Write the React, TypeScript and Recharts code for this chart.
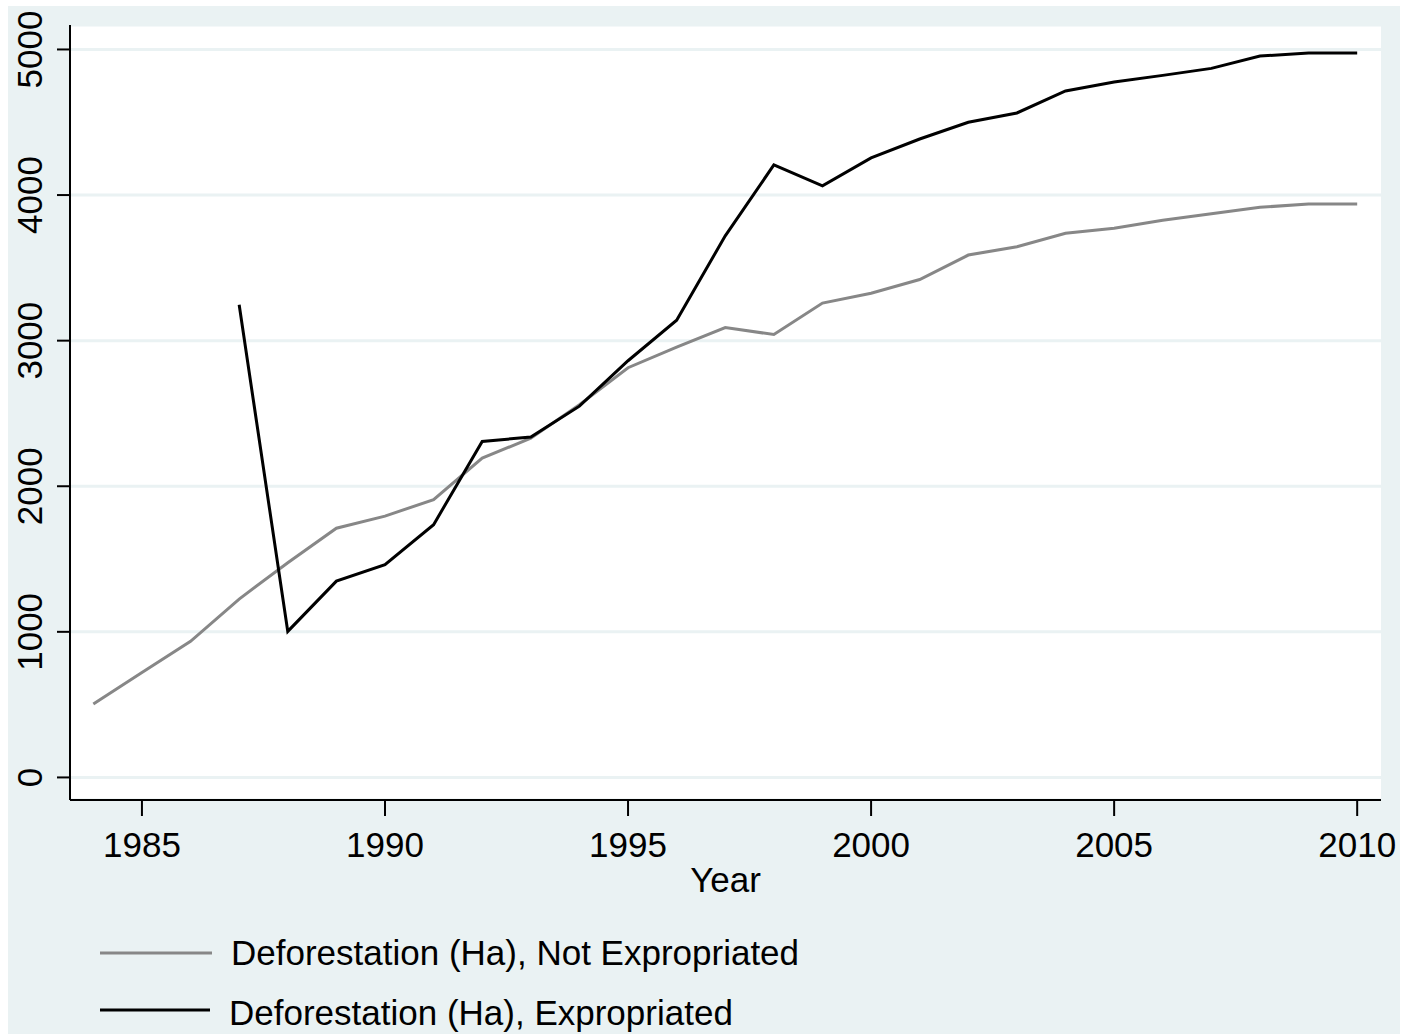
import React from 'react'
import { LineChart, Line, XAxis, YAxis, CartesianGrid, Legend, Label } from 'recharts'

const years = [
  1984, 1985, 1986, 1987, 1988, 1989, 1990, 1991, 1992, 1993, 1994, 1995, 1996, 1997,
  1998, 1999, 2000, 2001, 2002, 2003, 2004, 2005, 2006, 2007, 2008, 2009, 2010,
]
const notExpropriated = [
  505, 720, 935, 1225, 1475, 1712, 1795, 1908, 2193, 2330, 2560, 2814, 2955, 3090,
  3042, 3258, 3326, 3420, 3588, 3645, 3738, 3772, 3827, 3872, 3916, 3938, 3938,
]
const expropriated = [
  null, null, null, 3246, 1003, 1348, 1462, 1736, 2308, 2338, 2550, 2862, 3140, 3720,
  4207, 4063, 4255, 4385, 4500, 4564, 4715, 4777, 4822, 4870, 4955, 4976, 4976,
]
const xTicks = [1985, 1990, 1995, 2000, 2005, 2010]
const yTicks = [0, 1000, 2000, 3000, 4000, 5000]

const data = years.map((year, i) => ({
  year,
  notExp: notExpropriated[i],
  exp: expropriated[i],
}))

const FONT = '"Liberation Sans", Arial, sans-serif'
const BG = '#eaf2f3'
const GRAY = '#878787'

const XTick = (props: any) => {
  const { x, y, payload } = props
  return (
    <text x={x} y={y + 41} textAnchor="middle" fontSize={35} fontFamily={FONT} fill="#000">
      {payload.value}
    </text>
  )
}

const YTick = (props: any) => {
  const { x, y, payload } = props
  return (
    <text
      x={x}
      y={y}
      transform={`rotate(-90 ${x} ${y})`}
      textAnchor="middle"
      fontSize={35}
      fontFamily={FONT}
      fill="#000"
    >
      {payload.value}
    </text>
  )
}

const LegendBox = () => (
  <svg width={1392} height={134} style={{ display: 'block' }}>
    <line x1={92} x2={204} y1={53} y2={53} stroke={GRAY} strokeWidth={3} />
    <text x={223} y={65} fontSize={35} fontFamily={FONT} fill="#000">
      Deforestation (Ha), Not Expropriated
    </text>
    <line x1={92} x2={202} y1={110} y2={110} stroke="#000" strokeWidth={3} />
    <text x={221} y={125} fontSize={35} fontFamily={FONT} fill="#000">
      Deforestation (Ha), Expropriated
    </text>
  </svg>
)

export default function App() {
  return (
    <div style={{ position: 'absolute', left: 8, top: 6 }}>
      <LineChart
        width={1392}
        height={1028}
        data={data}
        margin={{ top: 19, right: 19, left: 0, bottom: 0 }}
        style={{ background: BG }}
      >
        <CartesianGrid vertical={false} fill="#fff" stroke={BG} strokeWidth={3} />
        <XAxis
          dataKey="year"
          type="number"
          domain={[1983.52, 2010.49]}
          allowDataOverflow
          ticks={xTicks}
          height={100}
          tickSize={16}
          tickMargin={0}
          tick={<XTick />}
          axisLine={{ stroke: '#000', strokeWidth: 2 }}
          tickLine={{ stroke: '#000', strokeWidth: 2 }}
        >
          <Label value="Year" position="insideBottom" offset={8} fontSize={35} fontFamily={FONT} fill="#000" />
        </XAxis>
        <YAxis
          type="number"
          domain={[-155, 5168]}
          allowDataOverflow
          ticks={yTicks}
          width={62}
          tickSize={13}
          tickMargin={15}
          tick={<YTick />}
          axisLine={{ stroke: '#000', strokeWidth: 2 }}
          tickLine={{ stroke: '#000', strokeWidth: 2 }}
        />
        <Legend
          verticalAlign="bottom"
          wrapperStyle={{ left: 0, bottom: 0, width: 1392, height: 134 }}
          content={() => <LegendBox />}
        />
        <Line
          type="linear"
          dataKey="notExp"
          stroke={GRAY}
          strokeWidth={3}
          dot={false}
          isAnimationActive={false}
        />
        <Line
          type="linear"
          dataKey="exp"
          stroke="#000"
          strokeWidth={3}
          dot={false}
          isAnimationActive={false}
        />
      </LineChart>
    </div>
  )
}
